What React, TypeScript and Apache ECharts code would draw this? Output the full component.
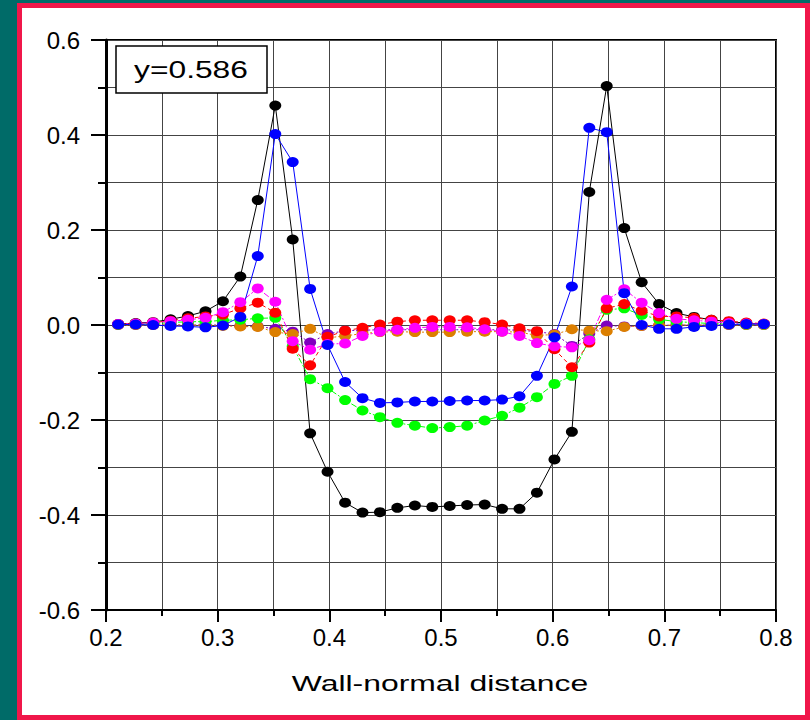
import React, { useEffect, useRef } from "react";
import * as echarts from "echarts";

const xValues = [
  0.2109, 0.2266, 0.2422, 0.2578, 0.2734, 0.2891, 0.3047, 0.3203, 0.3359, 0.3516,
  0.3672, 0.3828, 0.3984, 0.4141, 0.4297, 0.4453, 0.4609, 0.4766, 0.4922, 0.5078,
  0.5234, 0.5391, 0.5547, 0.5703, 0.5859, 0.6016, 0.6172, 0.6328, 0.6484, 0.6641,
  0.6797, 0.6953, 0.7109, 0.7266, 0.7422, 0.7578, 0.7734, 0.7891,
];

const blackValues = [
  0.002, 0.004, 0.006, 0.012, 0.019, 0.029, 0.05, 0.102, 0.263, 0.462,
  0.18, -0.228, -0.309, -0.374, -0.395, -0.394, -0.385, -0.38, -0.383, -0.381,
  -0.379, -0.378, -0.387, -0.387, -0.353, -0.283, -0.225, 0.28, 0.503, 0.204,
  0.09, 0.044, 0.025, 0.017, 0.011, 0.007, 0.004, 0.002,
];

const blueValues = [
  0.001, 0.001, 0.0, -0.002, -0.003, -0.005, -0.001, 0.017, 0.145, 0.402,
  0.343, 0.076, -0.042, -0.12, -0.154, -0.164, -0.163, -0.161, -0.161, -0.16,
  -0.159, -0.159, -0.157, -0.15, -0.107, -0.026, 0.081, 0.415, 0.406, 0.067,
  0.0, -0.008, -0.008, -0.004, -0.002, 0.001, 0.002, 0.002,
];

const greenValues = [
  0.001, 0.002, 0.003, 0.005, 0.007, 0.007, 0.01, 0.011, 0.014, 0.015,
  -0.045, -0.114, -0.133, -0.158, -0.18, -0.194, -0.206, -0.212, -0.217, -0.215,
  -0.212, -0.201, -0.191, -0.174, -0.152, -0.124, -0.107, -0.03, 0.032, 0.035,
  0.021, 0.012, 0.007, 0.005, 0.003, 0.002, 0.001, 0.001,
];

const redValues = [
  0.002, 0.003, 0.005, 0.009, 0.014, 0.018, 0.022, 0.035, 0.047, 0.026,
  -0.05, -0.085, -0.025, -0.012, -0.006, 0.001, 0.007, 0.01, 0.01, 0.01,
  0.01, 0.006, 0.001, -0.007, -0.013, -0.051, -0.089, -0.037, 0.035, 0.044,
  0.03, 0.018, 0.018, 0.015, 0.011, 0.008, 0.005, 0.003,
];

const magentaValues = [
  0.002, 0.003, 0.005, 0.008, 0.011, 0.015, 0.027, 0.048, 0.077, 0.049,
  -0.034, -0.052, -0.04, -0.039, -0.023, -0.014, -0.01, -0.006, -0.004, -0.004,
  -0.005, -0.009, -0.014, -0.023, -0.038, -0.045, -0.047, -0.032, 0.053, 0.075,
  0.047, 0.025, 0.013, 0.01, 0.007, 0.004, 0.003, 0.002,
];

const purpleValues = [
  0.0, 0.0, 0.0, 0.0, 0.0, 0.0, 0.0, -0.002, -0.003, -0.008,
  -0.014, -0.037, -0.019, -0.012, -0.011, -0.01, -0.01, -0.01, -0.01, -0.01,
  -0.01, -0.01, -0.01, -0.011, -0.014, -0.019, -0.044, -0.018, -0.001, -0.003,
  -0.002, -0.001, 0.0, 0.0, 0.0, 0.0, 0.0, 0.0,
];

const orangeValues = [
  0.0, 0.0, 0.0, 0.0, 0.0, -0.001, -0.002, -0.003, -0.004, -0.015,
  -0.019, -0.008, -0.027, -0.023, -0.018, -0.015, -0.014, -0.015, -0.015, -0.015,
  -0.014, -0.014, -0.014, -0.015, -0.022, -0.02, -0.009, -0.012, -0.013, -0.004,
  -0.002, -0.001, 0.0, 0.0, 0.0, 0.0, 0.0, 0.0,
];

const seriesDefs = [
  { name: "black", values: blackValues, color: "#000000", dash: "solid" },
  { name: "purple", values: purpleValues, color: "#7f00bf", dash: [2, 2] },
  { name: "orange", values: orangeValues, color: "#dc7f00", dash: [2, 2] },
  { name: "green", values: greenValues, color: "#00ff00", dash: [6, 2, 2, 2] },
  { name: "red", values: redValues, color: "#ff0000", dash: [4, 3] },
  { name: "magenta", values: magentaValues, color: "#ff00ff", dash: [6, 2, 2, 2] },
  { name: "blue", values: blueValues, color: "#0000ff", dash: "solid" },
];

const annotation = "y=0.586";
const xAxisTitle = "Wall-normal distance";
const FONT = "'Liberation Sans', Arial, sans-serif";

export default function App() {
  const ref = useRef<HTMLDivElement>(null);

  useEffect(() => {
    if (!ref.current) return;
    const chart = echarts.init(ref.current, null, { renderer: "svg" });
    const option: any = {
      animation: false,
      backgroundColor: "transparent",
      grid: {
        left: 106,
        right: 34,
        top: 40,
        bottom: 110,
        show: true,
        borderColor: "#000",
        borderWidth: 2,
        backgroundColor: "transparent",
      },
      xAxis: {
        type: "value",
        min: 0.2,
        max: 0.8,
        interval: 0.1,
        axisLine: { onZero: false, lineStyle: { color: "#000", width: 2 } },
        axisTick: { length: 12, lineStyle: { color: "#000", width: 2 } },
        minorTick: { show: true, splitNumber: 2, length: 6, lineStyle: { color: "#000", width: 2 } },
        splitLine: { show: true, lineStyle: { color: "#444", width: 1 } },
        minorSplitLine: { show: true, lineStyle: { color: "#444", width: 1 } },
        axisLabel: {
          formatter: (v: number) => v.toFixed(1),
          color: "#000",
          fontSize: 24,
          fontFamily: FONT,
          margin: 15,
        },
      },
      yAxis: {
        type: "value",
        min: -0.6,
        max: 0.6,
        interval: 0.2,
        axisLine: { onZero: false, lineStyle: { color: "#000", width: 3 } },
        axisTick: { length: 15, lineStyle: { color: "#000", width: 2 } },
        minorTick: { show: true, splitNumber: 2, length: 8, lineStyle: { color: "#000", width: 2 } },
        splitLine: { show: true, lineStyle: { color: "#444", width: 1 } },
        minorSplitLine: { show: true, lineStyle: { color: "#444", width: 1 } },
        axisLabel: {
          formatter: (v: number) => v.toFixed(1),
          color: "#000",
          fontSize: 24,
          fontFamily: FONT,
          margin: 26,
        },
      },
      series: seriesDefs.map((s) => ({
        name: s.name,
        type: "line",
        data: xValues.map((x, i) => [x, s.values[i]]),
        symbol: "circle",
        symbolSize: [12, 10],
        showSymbol: true,
        itemStyle: { color: s.color },
        lineStyle: { color: s.color, width: 1, type: s.dash },
        z: 3,
      })),
      graphic: [
        {
          type: "rect",
          shape: { x: 116, y: 46, width: 151, height: 47 },
          style: { fill: "#fff", stroke: "#000", lineWidth: 1.5 },
          z: 100,
        },
        {
          type: "text",
          x: 191,
          y: 70,
          scaleX: 1.38,
          style: {
            text: annotation,
            fill: "#000",
            fontSize: 23,
            fontFamily: FONT,
            textAlign: "center",
            textVerticalAlign: "middle",
          },
          z: 101,
        },
        {
          type: "text",
          x: 440,
          y: 683,
          scaleX: 1.45,
          style: {
            text: xAxisTitle,
            fill: "#000",
            fontSize: 22,
            fontFamily: FONT,
            textAlign: "center",
            textVerticalAlign: "middle",
          },
          z: 101,
        },
      ],
    };
    chart.setOption(option);
    return () => chart.dispose();
  }, []);

  return (
    <div
      style={{
        position: "fixed",
        left: 0,
        top: 0,
        width: 810,
        height: 720,
        background: "#006b68",
        overflow: "hidden",
      }}
    >
      <div
        style={{
          position: "absolute",
          left: 17,
          top: 3,
          width: 793,
          height: 717,
          boxSizing: "border-box",
          border: "5px solid #f0174a",
          background: "#fff",
        }}
      />
      <div
        ref={ref}
        style={{ position: "absolute", left: 0, top: 0, width: 810, height: 720 }}
      />
    </div>
  );
}
